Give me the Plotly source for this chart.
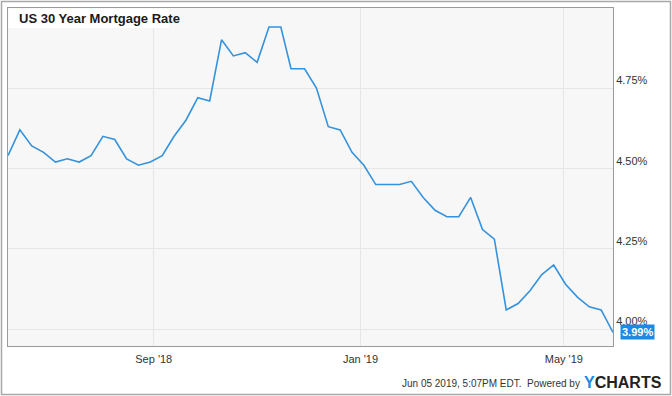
import plotly.graph_objects as go

dates = [
    "2018-06-07", "2018-06-14", "2018-06-21", "2018-06-28", "2018-07-05", "2018-07-12",
    "2018-07-19", "2018-07-26", "2018-08-02", "2018-08-09", "2018-08-16", "2018-08-23",
    "2018-08-30", "2018-09-06", "2018-09-13", "2018-09-20", "2018-09-27", "2018-10-04",
    "2018-10-11", "2018-10-18", "2018-10-25", "2018-11-01", "2018-11-08", "2018-11-15",
    "2018-11-21", "2018-11-29", "2018-12-06", "2018-12-13", "2018-12-20", "2018-12-27",
    "2019-01-03", "2019-01-10", "2019-01-17", "2019-01-24", "2019-01-31", "2019-02-07",
    "2019-02-14", "2019-02-21", "2019-02-28", "2019-03-07", "2019-03-14", "2019-03-21",
    "2019-03-28", "2019-04-04", "2019-04-11", "2019-04-18", "2019-04-25", "2019-05-02",
    "2019-05-09", "2019-05-16", "2019-05-23", "2019-05-30",
]
rates = [
    4.54, 4.62, 4.57, 4.55, 4.52, 4.53,
    4.52, 4.54, 4.60, 4.59, 4.53, 4.51,
    4.52, 4.54, 4.60, 4.65, 4.72, 4.71,
    4.90, 4.85, 4.86, 4.83, 4.94, 4.94,
    4.81, 4.81, 4.75, 4.63, 4.62, 4.55,
    4.51, 4.45, 4.45, 4.45, 4.46, 4.41,
    4.37, 4.35, 4.35, 4.41, 4.31, 4.28,
    4.06, 4.08, 4.12, 4.17, 4.20, 4.14,
    4.10, 4.07, 4.06, 3.99,
]
x_tick_vals = ["2018-09-01", "2019-01-01", "2019-05-01"]
x_tick_text = ["Sep '18", "Jan '19", "May '19"]
y_tick_vals = [4.00, 4.25, 4.50, 4.75]
y_tick_text = ["4.00%", "4.25%", "4.50%", "4.75%"]

title_text = "US 30 Year Mortgage Rate"
footer_text = "Jun 05 2019, 5:07PM EDT.  Powered by"

W, H = 672, 396
L, R, T, B = 8, 613, 8, 346
PW, PH = R - L, B - T

def px(x):
    return (x - L) / PW

def py(y):
    return (B - y) / PH

BLUE = "#3592dc"
LABEL_BLUE = "#1b8ae6"

fig = go.Figure()
fig.add_trace(go.Scatter(
    x=dates, y=rates, mode="lines",
    line=dict(color=BLUE, width=1.6),
    hoverinfo="skip", showlegend=False,
))

fig.update_layout(
    width=W, height=H,
    margin=dict(l=L, r=W - R, t=T, b=H - B),
    paper_bgcolor="white",
    plot_bgcolor="#f7f7f7",
    font=dict(family="Liberation Sans, Arial, sans-serif", color="#333333", size=11),
    xaxis=dict(
        range=[dates[0], dates[-1]],
        tickvals=x_tick_vals, ticktext=x_tick_text,
        showgrid=True, gridcolor="#e6e6e6", gridwidth=1,
        showline=True, linecolor="#9a9a9a", linewidth=1, mirror=True,
        ticks="", zeroline=False, ticklabelstandoff=3,
        tickfont=dict(size=11, color="#333333"),
    ),
    yaxis=dict(
        range=[3.948, 4.999], side="right",
        tickvals=y_tick_vals, ticktext=y_tick_text,
        showgrid=True, gridcolor="#e6e6e6", gridwidth=1,
        showline=True, linecolor="#9a9a9a", linewidth=1, mirror=True,
        ticks="", zeroline=False, ticklabelposition="outside top",
        tickfont=dict(size=11, color="#333333"),
    ),
    shapes=[
        # outer border
        dict(type="rect", xref="paper", yref="paper",
             x0=px(1.5), x1=px(670.5), y0=py(394.5), y1=py(1.5),
             line=dict(color="#a8a8a8", width=1.5), fillcolor="rgba(0,0,0,0)", layer="above"),
        # title box
        dict(type="rect", xref="paper", yref="paper",
             x0=px(8.5), x1=px(169), y0=py(28), y1=py(8.5),
             line=dict(width=0), fillcolor="white", layer="above"),
        # pointer of value label
        dict(type="path", xref="x", yref="y", xsizemode="pixel", ysizemode="pixel",
             xanchor=dates[-1], yanchor=rates[-1],
             path="M 1,0 L 8,7 L 8,-7 Z",
             line=dict(width=0), fillcolor=LABEL_BLUE, layer="above"),
    ],
    annotations=[
        dict(text="<b>" + title_text + "</b>", xref="paper", yref="paper",
             x=px(17), y=py(18), xanchor="left", yanchor="middle",
             showarrow=False, font=dict(size=13, color="#1a1a1a")),
        dict(text="<b>%.2f%%</b>" % rates[-1], xref="x", yref="y",
             x=dates[-1], y=rates[-1], xanchor="left", yanchor="middle",
             xshift=7, showarrow=False, bgcolor=LABEL_BLUE, borderpad=1,
             font=dict(size=11, color="white")),
        dict(text=footer_text, xref="paper", yref="paper",
             x=px(582), y=py(384), xanchor="right", yanchor="middle",
             showarrow=False, font=dict(size=10, color="#333333")),
        dict(text="<b><span style='color:#1b8ae6'>Y</span>CHARTS</b>", xref="paper", yref="paper",
             x=px(582), y=py(382), xanchor="left", yanchor="middle",
             showarrow=False, font=dict(size=16, color="#222222")),
    ],
)

fig.write_html(
    "out.html",
    config={"displayModeBar": False},
    post_script="document.body.style.margin='0';document.body.style.padding='0';",
)
